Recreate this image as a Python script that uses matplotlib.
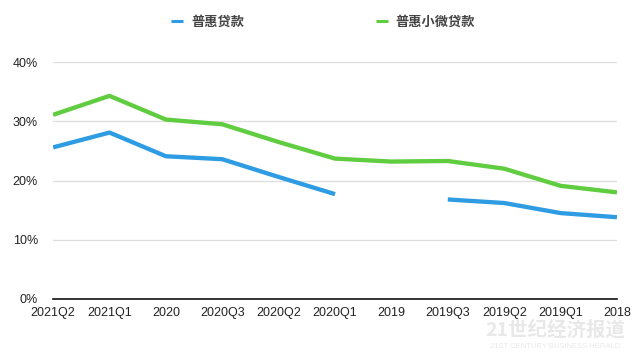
import matplotlib
matplotlib.use("Agg")
import matplotlib.pyplot as plt
import numpy as np

plt.rcParams['font.family'] = ['Liberation Sans', 'Noto Sans CJK SC', 'DejaVu Sans']

# data (percent)
periods = ['2021Q2', '2021Q1', '2020', '2020Q3', '2020Q2', '2020Q1',
           '2019', '2019Q3', '2019Q2', '2019Q1', '2018']
puhui = [25.6, 28.1, 24.1, 23.6, 20.6, 17.7, np.nan, 16.8, 16.2, 14.5, 13.8]
puhui_xiaowei = [31.1, 34.3, 30.3, 29.5, 26.5, 23.7, 23.2, 23.3, 22.0, 19.1, 18.0]
yticks = [0, 10, 20, 30, 40]

fig = plt.figure(figsize=(6.4, 3.55), dpi=100)
ax = fig.add_axes([0.083, 0.158, 0.881, 0.667])

x = np.arange(len(periods))
ax.plot(x, puhui, color='#2e9ce3', lw=3.1, label='普惠贷款', solid_capstyle='butt')
ax.plot(x, puhui_xiaowei, color='#5fcd3f', lw=3.1, label='普惠小微贷款', solid_capstyle='butt')

ax.set_xlim(0, len(periods) - 1)
ax.set_ylim(0, 40)
ax.set_yticks(yticks)
ax.set_yticklabels([f'{v}%' for v in yticks])
ax.set_xticks(x)
ax.set_xticklabels(periods)
ax.tick_params(length=0, labelsize=9, colors='#222222')
ax.tick_params(axis='y', pad=11)
ax.tick_params(axis='x', pad=6)
ax.grid(axis='y', color='#dddddd', lw=0.9)
ax.set_axisbelow(True)
for s in ['top', 'right', 'left']:
    ax.spines[s].set_visible(False)
ax.spines['bottom'].set_color('#111111')
ax.spines['bottom'].set_linewidth(1.2)

leg = fig.legend(loc='center', bbox_to_anchor=(0.505, 0.938), ncol=2, frameon=False,
                 handlelength=0.9, handletextpad=0.6, columnspacing=10.0,
                 prop={'family': 'Noto Sans CJK SC', 'size': 9.5, 'weight': 'bold'})
for t in leg.get_texts():
    t.set_color('#444444')
for h in leg.get_lines():
    h.set_linewidth(2.2)

# watermark
fig.text(0.868, 0.07, '21世纪经济报道', ha='center', va='center', fontsize=14,
         color='#999999', alpha=0.22, family=['Noto Sans CJK SC'], fontweight='bold')
fig.text(0.868, 0.025, '21ST CENTURY BUSINESS HERALD', ha='center', va='center', fontsize=5.5,
         color='#999999', alpha=0.22)

fig.savefig('out.png', dpi=100)
